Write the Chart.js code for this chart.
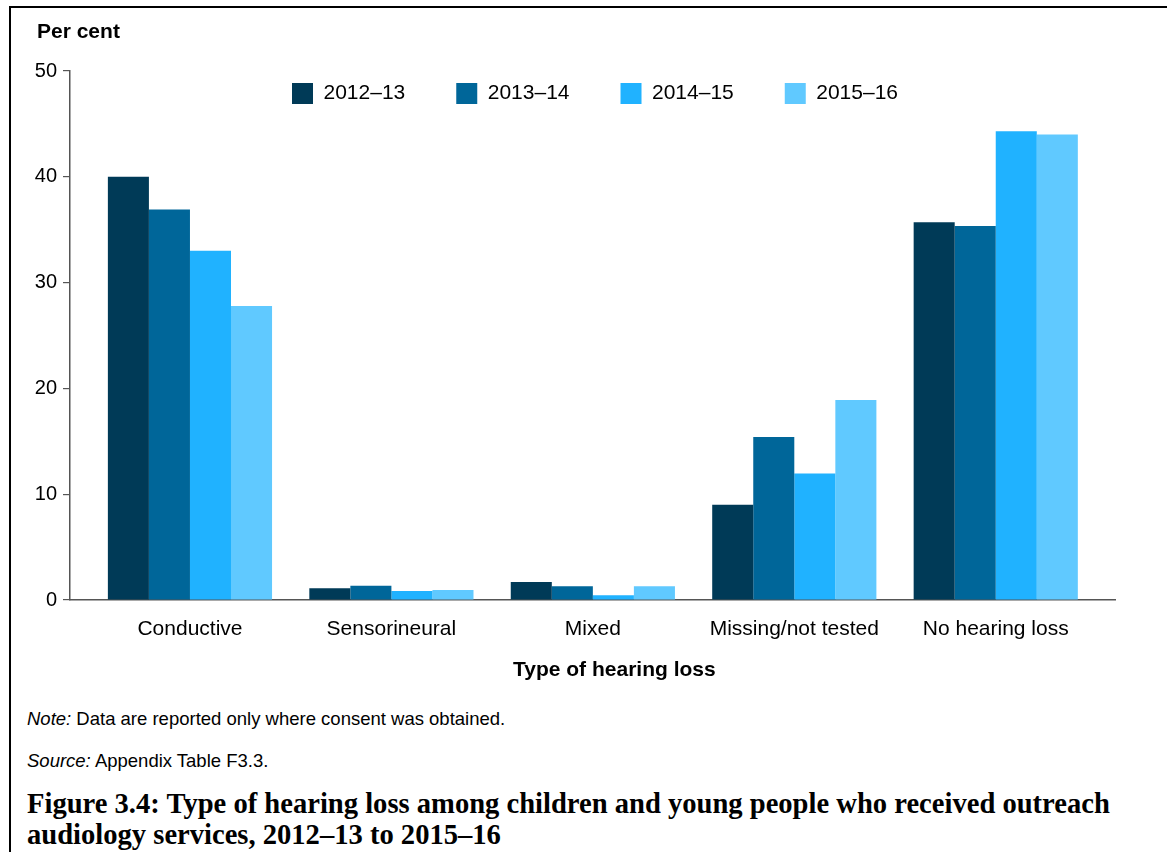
<!DOCTYPE html>
<html>
<head>
<meta charset="utf-8">
<script src="https://cdn.jsdelivr.net/npm/chart.js@4.4.0/dist/chart.umd.min.js"></script>
<style>
  html, body { margin: 0; padding: 0; background: #fff; }
  body { width: 1167px; height: 852px; position: relative; overflow: hidden; font-family: "Liberation Sans", Arial, sans-serif; color: #000; }
  #frame { position: absolute; left: 9px; top: 6px; width: 1200px; height: 900px; border-left: 2px solid #000; border-top: 2px solid #000; }
  #chart { position: absolute; left: 0; top: 0; }
  .abs { position: absolute; white-space: nowrap; }
  #ylab { left: 37px; top: 20px; font-size: 21px; font-weight: bold; line-height: 21px; }
  #xlab { left: 513px; top: 658px; font-size: 21px; font-weight: bold; line-height: 21px; }
  #note { left: 27px; top: 710px; font-size: 18.5px; line-height: 18.5px; }
  #source { left: 27px; top: 752px; font-size: 18.5px; line-height: 18.5px; }
  #caption { left: 27px; top: 788px; font-family: "Liberation Serif", serif; font-weight: bold; font-size: 26px; line-height: 31px; }
</style>
</head>
<body>
<div id="frame"></div>
<canvas id="chart" width="1167" height="690"></canvas>
<div class="abs" id="ylab">Per cent</div>
<div class="abs" id="xlab">Type of hearing loss</div>
<div class="abs" id="note"><i>Note:</i> Data are reported only where consent was obtained.</div>
<div class="abs" id="source"><i>Source:</i> Appendix Table F3.3.</div>
<div class="abs" id="caption"><span id="cap1">Figure 3.4: Type of hearing loss among children and young people who received outreach</span><br><span id="cap2">audiology services, 2012–13 to 2015–16</span></div>
<script>
// ---- data ----
const categories = ['Conductive', 'Sensorineural', 'Mixed', 'Missing/not tested', 'No hearing loss'];
const seriesNames = ['2012–13', '2013–14', '2014–15', '2015–16'];
const values2012 = [40.0, 1.1, 1.7, 9.0, 35.7];
const values2013 = [36.9, 1.35, 1.3, 15.4, 35.35];
const values2014 = [33.0, 0.85, 0.45, 11.95, 44.3];
const values2015 = [27.8, 0.95, 1.3, 18.9, 44.0];
const yTicks = [0, 10, 20, 30, 40, 50];

const seriesColors = ['#003A57', '#006699', '#20B2FF', '#60C9FF'];
const allValues = [values2012, values2013, values2014, values2015];

const FONT = '"Liberation Sans", Arial, sans-serif';
const LEG_PAD = 51;

const legendShift = {
  id: 'legendShift',
  afterLayout(chart) {
    const lg = chart.legend;
    if (!lg) return;
    lg.left = 292 - LEG_PAD; lg.right = 1160;
    lg.top = 83 - LEG_PAD; lg.bottom = 140;
    lg.width = lg.right - lg.left; lg.height = lg.bottom - lg.top;
  }
};

const datasets = allValues.map((vals, k) => ({
  label: seriesNames[k],
  data: vals.map((v, i) => ({ x: i, y: v })),
  backgroundColor: seriesColors[k],
  borderWidth: 0,
  categoryPercentage: 0.815,
  barPercentage: 1.0
}));

new Chart(document.getElementById('chart'), {
  type: 'bar',
  data: { datasets },
  options: {
    responsive: false,
    animation: false,
    devicePixelRatio: 1,
    layout: { padding: { left: 0, right: 52, top: 31, bottom: 0 } },
    plugins: {
      legend: {
        display: true,
        position: 'top',
        align: 'start',
        maxHeight: 40,
        labels: { boxWidth: 21, boxHeight: 21, padding: LEG_PAD, color: '#000', font: { family: FONT, size: 21 } }
      },
      tooltip: { enabled: false },
      title: { display: false }
    },
    scales: {
      x: {
        type: 'linear',
        offset: false,
        min: -0.5955,
        max: 4.592,
        grid: { display: false, drawTicks: false, offset: false },
        border: { display: true, color: '#555', width: 1.5 },
        ticks: {
          stepSize: 1,
          includeBounds: false,
          autoSkip: false,
          maxRotation: 0,
          padding: 17,
          color: '#000',
          font: { family: FONT, size: 21 },
          callback: (v) => Number.isInteger(v) && categories[v] !== undefined ? categories[v] : ''
        },
        afterFit: (s) => { s.height = 90; }
      },
      y: {
        min: 0,
        max: 50,
        afterBuildTicks: (s) => { s.ticks = yTicks.map(v => ({ value: v })); },
        grid: { display: true, drawOnChartArea: false, drawTicks: true, tickLength: 7, color: '#555', lineWidth: 1.2 },
        border: { display: true, color: '#555', width: 1.5 },
        ticks: { padding: 6, color: '#000', font: { family: FONT, size: 20 } },
        afterFit: (s) => { s.width = 70; }
      }
    }
  },
  plugins: [legendShift]
});

// fit caption line 1 width to reference
(function () {
  const cap1 = document.getElementById('cap1');
  const w = cap1.getBoundingClientRect().width;
  const target = 1083;
  const size = 26 * target / w;
  document.getElementById('caption').style.fontSize = size.toFixed(2) + 'px';
})();
</script>
</body>
</html>
